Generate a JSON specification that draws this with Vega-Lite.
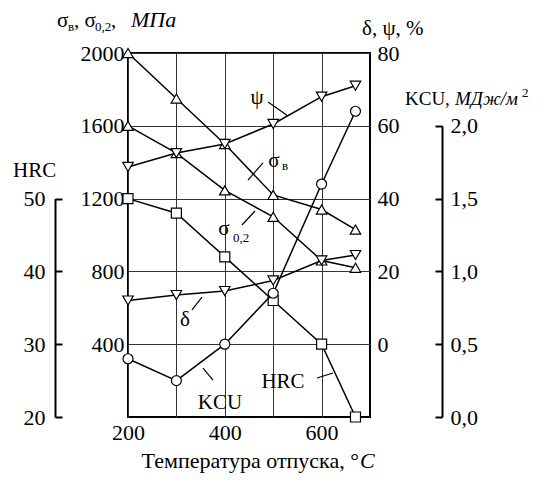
{
  "$schema": "https://vega.github.io/schema/vega-lite/v6.json",
  "width": 242,
  "height": 364,
  "autosize": {"type": "none"},
  "padding": {"left": 128, "top": 53, "right": 186, "bottom": 70},
  "background": "white",
  "config": {
    "view": {"stroke": "black", "strokeWidth": 2},
    "axis": {"labelFont": "Liberation Serif", "labelFontSize": 22, "labelColor": "black"}
  },
  "datasets": {
    "series": [
      {"T": 200, "param": "sb", "value": 2000}, {"T": 300, "param": "sb", "value": 1750}, {"T": 400, "param": "sb", "value": 1500},
      {"T": 500, "param": "sb", "value": 1220}, {"T": 600, "param": "sb", "value": 1140}, {"T": 670, "param": "sb", "value": 1030},
      {"T": 200, "param": "s02", "value": 1600}, {"T": 300, "param": "s02", "value": 1450}, {"T": 400, "param": "s02", "value": 1245},
      {"T": 500, "param": "s02", "value": 1100}, {"T": 600, "param": "s02", "value": 860}, {"T": 670, "param": "s02", "value": 820},
      {"T": 200, "param": "psi", "value": 48.7}, {"T": 300, "param": "psi", "value": 52.5}, {"T": 400, "param": "psi", "value": 55},
      {"T": 500, "param": "psi", "value": 60.5}, {"T": 600, "param": "psi", "value": 68}, {"T": 670, "param": "psi", "value": 71},
      {"T": 200, "param": "delta", "value": 12}, {"T": 300, "param": "delta", "value": 13.5}, {"T": 400, "param": "delta", "value": 14.6},
      {"T": 500, "param": "delta", "value": 17.5}, {"T": 600, "param": "delta", "value": 23}, {"T": 670, "param": "delta", "value": 24.5},
      {"T": 200, "param": "HRC", "value": 50}, {"T": 300, "param": "HRC", "value": 48}, {"T": 400, "param": "HRC", "value": 42},
      {"T": 500, "param": "HRC", "value": 36}, {"T": 600, "param": "HRC", "value": 30}, {"T": 670, "param": "HRC", "value": 20},
      {"T": 200, "param": "KCU", "value": 0.4}, {"T": 300, "param": "KCU", "value": 0.25}, {"T": 400, "param": "KCU", "value": 0.5},
      {"T": 500, "param": "KCU", "value": 0.85}, {"T": 600, "param": "KCU", "value": 1.6}, {"T": 670, "param": "KCU", "value": 2.1}
    ],
    "curveLabels": [
      {"T": 466.5, "s": 1753, "text": "ψ"},
      {"T": 501.7, "s": 1407, "text": "σ"},
      {"T": 398.3, "s": 1033, "text": "σ"},
      {"T": 317.8, "s": 533, "text": "δ"},
      {"T": 390, "s": 77, "text": "KCU"},
      {"T": 520.2, "s": 192, "text": "HRC"}
    ],
    "curveSubs": [
      {"T": 524.4, "s": 1379, "text": "в"},
      {"T": 433.5, "s": 983, "text": "0,2"}
    ],
    "leaders": [
      {"T": 489.3, "s": 1731, "T2": 530.6, "s2": 1654},
      {"T": 478.9, "s": 1396, "T2": 447.9, "s2": 1302},
      {"T": 435.5, "s": 1055, "T2": 462.4, "s2": 1132},
      {"T": 332.2, "s": 588, "T2": 352.9, "s2": 659},
      {"T": 355, "s": 269, "T2": 375.6, "s2": 203},
      {"T": 590.5, "s": 214, "T2": 623.6, "s2": 242}
    ],
    "titleMain": [
      {"T": 53.3, "s": 2143, "text": "σ"},
      {"T": 88.4, "s": 2143, "text": ", σ"},
      {"T": 164.9, "s": 2143, "text": ","},
      {"T": 683.5, "s": 2099, "text": "δ, ψ, %"},
      {"T": -37.6, "s": 1319, "text": "HRC"}
    ],
    "kcuTitle": [
      {"T": 772.3, "s": 1714, "text": "KCU,"}
    ],
    "titleSub": [
      {"T": 76.0, "s": 2121, "text": "в"},
      {"T": 131.8, "s": 2121, "text": "0,2"},
      {"T": 1014, "s": 1758, "text": "2"}
    ],
    "titleItalic": [
      {"T": 206.2, "s": 2143, "text": "МПа"}
    ],
    "xItalic": [
      {"T": 679.3, "s": -280, "text": "C"}
    ],
    "kcuItalic": [
      {"T": 875.6, "s": 1714, "text": "МДж/м"}
    ],
    "xTitle": [
      {"T": 677.3, "s": -280, "text": "Температура отпуска, °"}
    ]
  },
  "layer": [
    {
      "data": {"name": "series"},
      "transform": [{"filter": "datum.param == 'sb' || datum.param == 's02'"}],
      "mark": {"type": "line", "color": "black", "strokeWidth": 1.5},
      "encoding": {
        "x": {"field": "T", "type": "quantitative", "scale": {"domain": [200, 700], "nice": false, "zero": false},
          "axis": {"orient": "bottom", "title": null, "values": [200, 300, 400, 500, 600], "labelExpr": "datum.value % 200 == 0 ? datum.label : ''",
            "labelFlush": false, "grid": true, "gridColor": "#333", "gridWidth": 1, "ticks": false, "domain": false, "labelPadding": 5}},
        "y": {"field": "value", "type": "quantitative", "scale": {"domain": [0, 2000], "nice": false, "zero": false},
          "axis": {"orient": "left", "title": null, "format": "d", "values": [400, 800, 1200, 1600, 2000], "grid": true, "gridColor": "#333", "gridWidth": 1,
            "ticks": false, "domain": false, "labelPadding": 4, "labelBaseline": "middle"}},
        "detail": {"field": "param"}
      }
    },
    {
      "data": {"name": "series"},
      "transform": [{"filter": "datum.param == 'sb' || datum.param == 's02'"}],
      "mark": {"type": "point", "shape": "triangle-up", "filled": true, "fill": "white", "stroke": "black", "strokeWidth": 1.2, "size": 110, "opacity": 1},
      "encoding": {
        "x": {"field": "T", "type": "quantitative", "scale": {"domain": [200, 700], "nice": false, "zero": false}, "axis": null},
        "y": {"field": "value", "type": "quantitative", "scale": {"domain": [0, 2000], "nice": false, "zero": false}, "axis": null}
      }
    },
    {
      "data": {"name": "series"},
      "transform": [{"filter": "datum.param == 'psi' || datum.param == 'delta'"}],
      "mark": {"type": "line", "color": "black", "strokeWidth": 1.5},
      "encoding": {
        "x": {"field": "T", "type": "quantitative", "scale": {"domain": [200, 700], "nice": false, "zero": false}, "axis": null},
        "y": {"field": "value", "type": "quantitative", "scale": {"domain": [0, 80], "range": [291.2, 0], "nice": false, "zero": false},
          "axis": {"orient": "right", "title": null, "values": [0, 20, 40, 60, 80], "grid": false, "ticks": false, "domain": false, "labelPadding": 7, "labelBaseline": "middle"}},
        "detail": {"field": "param"}
      }
    },
    {
      "data": {"name": "series"},
      "transform": [{"filter": "datum.param == 'psi' || datum.param == 'delta'"}],
      "mark": {"type": "point", "shape": "triangle-down", "filled": true, "fill": "white", "stroke": "black", "strokeWidth": 1.2, "size": 110, "opacity": 1},
      "encoding": {
        "x": {"field": "T", "type": "quantitative", "scale": {"domain": [200, 700], "nice": false, "zero": false}, "axis": null},
        "y": {"field": "value", "type": "quantitative", "scale": {"domain": [0, 80], "range": [291.2, 0], "nice": false, "zero": false}, "axis": null}
      }
    },
    {
      "data": {"name": "series"},
      "transform": [{"filter": "datum.param == 'HRC'"}],
      "mark": {"type": "line", "color": "black", "strokeWidth": 1.5},
      "encoding": {
        "x": {"field": "T", "type": "quantitative", "scale": {"domain": [200, 700], "nice": false, "zero": false}, "axis": null},
        "y": {"field": "value", "type": "quantitative", "scale": {"domain": [20, 50], "range": [364, 145.6], "nice": false, "zero": false},
          "axis": {"orient": "left", "title": null, "offset": 73, "values": [20, 30, 40, 50], "grid": false, "ticks": true, "tickSize": -7, "tickWidth": 2, "tickColor": "black",
            "domain": true, "domainWidth": 2, "domainColor": "black", "labelPadding": 17, "labelBaseline": "middle"}}
      }
    },
    {
      "data": {"name": "series"},
      "transform": [{"filter": "datum.param == 'HRC'"}],
      "mark": {"type": "point", "shape": "square", "filled": true, "fill": "white", "stroke": "black", "strokeWidth": 1.2, "size": 100, "opacity": 1},
      "encoding": {
        "x": {"field": "T", "type": "quantitative", "scale": {"domain": [200, 700], "nice": false, "zero": false}, "axis": null},
        "y": {"field": "value", "type": "quantitative", "scale": {"domain": [20, 50], "range": [364, 145.6], "nice": false, "zero": false}, "axis": null}
      }
    },
    {
      "data": {"name": "series"},
      "transform": [{"filter": "datum.param == 'KCU'"}],
      "mark": {"type": "line", "color": "black", "strokeWidth": 1.5},
      "encoding": {
        "x": {"field": "T", "type": "quantitative", "scale": {"domain": [200, 700], "nice": false, "zero": false}, "axis": null},
        "y": {"field": "value", "type": "quantitative", "scale": {"domain": [0, 2], "range": [364, 72.8], "nice": false, "zero": false},
          "axis": {"orient": "right", "title": null, "offset": 72, "values": [0, 0.5, 1, 1.5, 2], "labelExpr": "replace(format(datum.value, '.1f'), '.', ',')",
            "grid": false, "ticks": true, "tickSize": -7, "tickWidth": 2, "tickColor": "black",
            "domain": true, "domainWidth": 2, "domainColor": "black", "labelPadding": 15, "labelBaseline": "middle"}}
      }
    },
    {
      "data": {"name": "series"},
      "transform": [{"filter": "datum.param == 'KCU'"}],
      "mark": {"type": "point", "shape": "circle", "filled": true, "fill": "white", "stroke": "black", "strokeWidth": 1.2, "size": 100, "opacity": 1},
      "encoding": {
        "x": {"field": "T", "type": "quantitative", "scale": {"domain": [200, 700], "nice": false, "zero": false}, "axis": null},
        "y": {"field": "value", "type": "quantitative", "scale": {"domain": [0, 2], "range": [364, 72.8], "nice": false, "zero": false}, "axis": null}
      }
    },
    {
      "data": {"name": "leaders"},
      "mark": {"type": "rule", "color": "black", "strokeWidth": 1.2},
      "encoding": {
        "x": {"field": "T", "type": "quantitative", "scale": {"domain": [200, 700], "nice": false, "zero": false}, "axis": null},
        "y": {"field": "s", "type": "quantitative", "scale": {"domain": [0, 2000], "nice": false, "zero": false}, "axis": null},
        "x2": {"field": "T2"},
        "y2": {"field": "s2"}
      }
    },
    {
      "data": {"name": "curveLabels"},
      "mark": {"type": "text", "font": "Liberation Serif", "color": "black", "fontSize": 21, "align": "center", "baseline": "middle"},
      "encoding": {
        "x": {"field": "T", "type": "quantitative", "scale": {"domain": [200, 700], "nice": false, "zero": false}, "axis": null},
        "y": {"field": "s", "type": "quantitative", "scale": {"domain": [0, 2000], "nice": false, "zero": false}, "axis": null},
        "text": {"field": "text"}
      }
    },
    {
      "data": {"name": "curveSubs"},
      "mark": {"type": "text", "font": "Liberation Serif", "color": "black", "fontSize": 13, "align": "center", "baseline": "middle"},
      "encoding": {
        "x": {"field": "T", "type": "quantitative", "scale": {"domain": [200, 700], "nice": false, "zero": false}, "axis": null},
        "y": {"field": "s", "type": "quantitative", "scale": {"domain": [0, 2000], "nice": false, "zero": false}, "axis": null},
        "text": {"field": "text"}
      }
    },
    {
      "data": {"name": "titleMain"},
      "mark": {"type": "text", "font": "Liberation Serif", "color": "black", "fontSize": 21, "align": "left", "baseline": "alphabetic"},
      "encoding": {
        "x": {"field": "T", "type": "quantitative", "scale": {"domain": [200, 700], "nice": false, "zero": false}, "axis": null},
        "y": {"field": "s", "type": "quantitative", "scale": {"domain": [0, 2000], "nice": false, "zero": false}, "axis": null},
        "text": {"field": "text"}
      }
    },
    {
      "data": {"name": "kcuTitle"},
      "mark": {"type": "text", "font": "Liberation Serif", "color": "black", "fontSize": 19, "align": "left", "baseline": "alphabetic"},
      "encoding": {
        "x": {"field": "T", "type": "quantitative", "scale": {"domain": [200, 700], "nice": false, "zero": false}, "axis": null},
        "y": {"field": "s", "type": "quantitative", "scale": {"domain": [0, 2000], "nice": false, "zero": false}, "axis": null},
        "text": {"field": "text"}
      }
    },
    {
      "data": {"name": "xTitle"},
      "mark": {"type": "text", "font": "Liberation Serif", "color": "black", "fontSize": 22, "align": "right", "baseline": "alphabetic"},
      "encoding": {
        "x": {"field": "T", "type": "quantitative", "scale": {"domain": [200, 700], "nice": false, "zero": false}, "axis": null},
        "y": {"field": "s", "type": "quantitative", "scale": {"domain": [0, 2000], "nice": false, "zero": false}, "axis": null},
        "text": {"field": "text"}
      }
    },
    {
      "data": {"name": "xItalic"},
      "mark": {"type": "text", "font": "Liberation Serif", "color": "black", "fontSize": 22, "fontStyle": "italic", "align": "left", "baseline": "alphabetic"},
      "encoding": {
        "x": {"field": "T", "type": "quantitative", "scale": {"domain": [200, 700], "nice": false, "zero": false}, "axis": null},
        "y": {"field": "s", "type": "quantitative", "scale": {"domain": [0, 2000], "nice": false, "zero": false}, "axis": null},
        "text": {"field": "text"}
      }
    },
    {
      "data": {"name": "titleSub"},
      "mark": {"type": "text", "font": "Liberation Serif", "color": "black", "fontSize": 13, "align": "left", "baseline": "alphabetic"},
      "encoding": {
        "x": {"field": "T", "type": "quantitative", "scale": {"domain": [200, 700], "nice": false, "zero": false}, "axis": null},
        "y": {"field": "s", "type": "quantitative", "scale": {"domain": [0, 2000], "nice": false, "zero": false}, "axis": null},
        "text": {"field": "text"}
      }
    },
    {
      "data": {"name": "titleItalic"},
      "mark": {"type": "text", "font": "Liberation Serif", "color": "black", "fontSize": 22, "fontStyle": "italic", "align": "left", "baseline": "alphabetic"},
      "encoding": {
        "x": {"field": "T", "type": "quantitative", "scale": {"domain": [200, 700], "nice": false, "zero": false}, "axis": null},
        "y": {"field": "s", "type": "quantitative", "scale": {"domain": [0, 2000], "nice": false, "zero": false}, "axis": null},
        "text": {"field": "text"}
      }
    },
    {
      "data": {"name": "kcuItalic"},
      "mark": {"type": "text", "font": "Liberation Serif", "color": "black", "fontSize": 19, "fontStyle": "italic", "align": "left", "baseline": "alphabetic"},
      "encoding": {
        "x": {"field": "T", "type": "quantitative", "scale": {"domain": [200, 700], "nice": false, "zero": false}, "axis": null},
        "y": {"field": "s", "type": "quantitative", "scale": {"domain": [0, 2000], "nice": false, "zero": false}, "axis": null},
        "text": {"field": "text"}
      }
    }
  ],
  "resolve": {"scale": {"y": "independent"}, "axis": {"y": "independent", "x": "independent"}}
}
